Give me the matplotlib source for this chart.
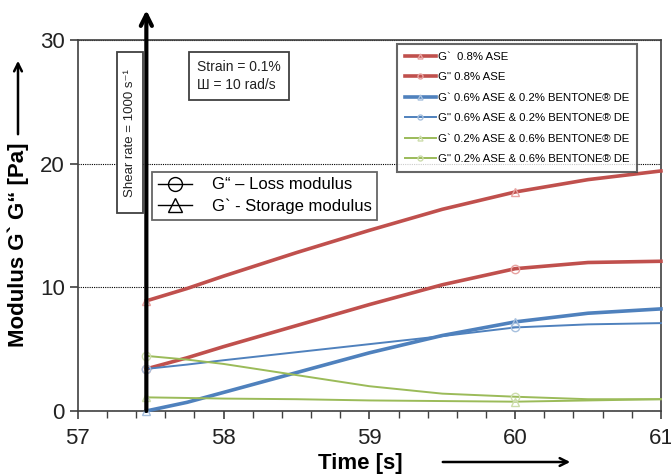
import matplotlib
matplotlib.use("Agg")
import matplotlib.pyplot as plt
from matplotlib.lines import Line2D
from matplotlib.patches import Rectangle, FancyArrowPatch

plt.rcParams['font.family'] = ['Liberation Sans', 'DejaVu Sans']

# time points
time = [57.47, 57.75, 58.0, 58.5, 59.0, 59.5, 60.0, 60.5, 61.0]

# 0.8% ASE
red_gp = [8.9, 9.9, 10.9, 12.8, 14.6, 16.3, 17.7, 18.7, 19.4]
red_gpp = [3.4, 4.3, 5.2, 6.9, 8.6, 10.2, 11.5, 12.0, 12.1]
# 0.6% ASE & 0.2% BENTONE DE
blue_gp = [0.0, 0.7, 1.5, 3.1, 4.7, 6.1, 7.2, 7.9, 8.25]
blue_gpp = [3.4, 3.75, 4.1, 4.75, 5.4, 6.05, 6.75, 7.0, 7.1]
# 0.2% ASE & 0.6% BENTONE DE
green_gp = [1.1, 1.05, 1.0, 0.95, 0.85, 0.8, 0.75, 0.85, 0.95]
green_gpp = [4.45, 4.15, 3.8, 2.9, 2.0, 1.4, 1.15, 0.95, 0.95]

labels = ["G`  0.8% ASE",
          "G\" 0.8% ASE",
          "G` 0.6% ASE & 0.2% BENTONE® DE",
          "G\" 0.6% ASE & 0.2% BENTONE® DE",
          "G` 0.2% ASE & 0.6% BENTONE® DE",
          "G\" 0.2% ASE & 0.6% BENTONE® DE"]

red = '#C0504D'
blue = '#4F81BD'
green = '#9BBB59'

fig = plt.figure(figsize=(6.71, 4.74), dpi=100)
ax = fig.add_axes([0.116, 0.133, 0.869, 0.783])

series = [(red_gp, red, '^', 2.6, '#E8A3A1'),
          (red_gpp, red, 'o', 2.6, '#E8A3A1'),
          (blue_gp, blue, '^', 2.6, '#A7C0DE'),
          (blue_gpp, blue, 'o', 1.4, '#A7C0DE'),
          (green_gp, green, '^', 1.4, '#CDDDAC'),
          (green_gpp, green, 'o', 1.4, '#CDDDAC')]

for (vals, c, m, lw, mc), lab in zip(series, labels):
    ax.plot(time, vals, color=c, lw=lw, marker=m, markevery=[0, 6], ms=6,
            mfc='none', mec=mc, mew=1.0, label=lab, clip_on=False, zorder=3)

ax.set_xlim(57, 61)
ax.set_ylim(0, 30)
ax.set_xticks([57, 58, 59, 60, 61])
ax.set_xticks([57 + 0.2 * i for i in range(21)], minor=True)
ax.set_yticks([0, 10, 20, 30])
ax.tick_params(axis='both', labelsize=16, colors='#404040', labelcolor='#222222',
               direction='out', length=6, width=1.2)
ax.tick_params(axis='x', which='minor', direction='out', length=5, width=1.0, colors='#404040')
ax.tick_params(axis='x', pad=6)
ax.yaxis.grid(True, linestyle=(0, (1, 1)), color='black', lw=0.8)
for s in ax.spines.values():
    s.set_color('#404040')
    s.set_linewidth(1.2)

ax.set_xlabel('Time [s]', fontsize=16, fontweight='bold')
ax.xaxis.set_label_coords(0.484, -0.112)
ax.set_ylabel('Modulus G` G“ [Pa]', fontsize=16, fontweight='bold')
ax.yaxis.set_label_coords(-0.083, 0.447)

# axis arrows
fig.patches.append(FancyArrowPatch(
    (18 / 671, 1 - 137 / 474), (18 / 671, 1 - 58 / 474), transform=fig.transFigure,
    arrowstyle='->', mutation_scale=14, lw=1.8, color='black'))
fig.patches.append(FancyArrowPatch(
    (440 / 671, 1 - 462 / 474), (573 / 671, 1 - 462 / 474), transform=fig.transFigure,
    arrowstyle='->', mutation_scale=14, lw=1.8, color='black'))

# shear-rate marker
ax.annotate('', xy=(57.47, 32.4), xytext=(57.47, 0), annotation_clip=False,
            arrowprops=dict(arrowstyle='->', lw=3, color='black', mutation_scale=20,
                            shrinkA=0, shrinkB=0), zorder=5)
ax.add_patch(Rectangle((57.27, 16.0), 0.18, 13.0, fill=True, facecolor='white',
                       edgecolor='#404040', lw=1.3, zorder=4))
ax.text(57.36, 22.5, 'Shear rate = 1000 s⁻¹', rotation=90, ha='center', va='center',
        fontsize=9.5, color='#222222', zorder=6)

ax.text(0.205, 0.945, 'Strain = 0.1%\nШ = 10 rad/s', transform=ax.transAxes, ha='left',
        va='top', fontsize=10, color='#222222', linespacing=1.3,
        bbox=dict(boxstyle='square,pad=0.6', facecolor='white', edgecolor='#404040', lw=1.3))

# symbol legend
sym = [Line2D([], [], color='black', lw=1, marker='o', ms=10, mfc='none', mec='black'),
       Line2D([], [], color='black', lw=1, marker='^', ms=10, mfc='none', mec='black')]
leg2 = ax.legend(sym, ['G“ – Loss modulus', 'G` - Storage modulus'], loc='upper left',
                 bbox_to_anchor=(0.128, 0.645), fontsize=12, frameon=True, fancybox=False,
                 edgecolor='#404040', handlelength=2.0, handletextpad=1.2,
                 borderpad=0.35, labelspacing=0.35, borderaxespad=0)
leg2.get_frame().set_linewidth(1.3)
ax.add_artist(leg2)

leg = ax.legend(loc='upper right', bbox_to_anchor=(0.959, 0.989), fontsize=8.2,
                frameon=True, fancybox=False, edgecolor='#404040', handlelength=2.8,
                handletextpad=0.1, labelspacing=0.92, borderpad=0.7, borderaxespad=0,
                markerscale=0.6)
leg.get_frame().set_linewidth(1.5)

fig.savefig('out.png', dpi=100)
